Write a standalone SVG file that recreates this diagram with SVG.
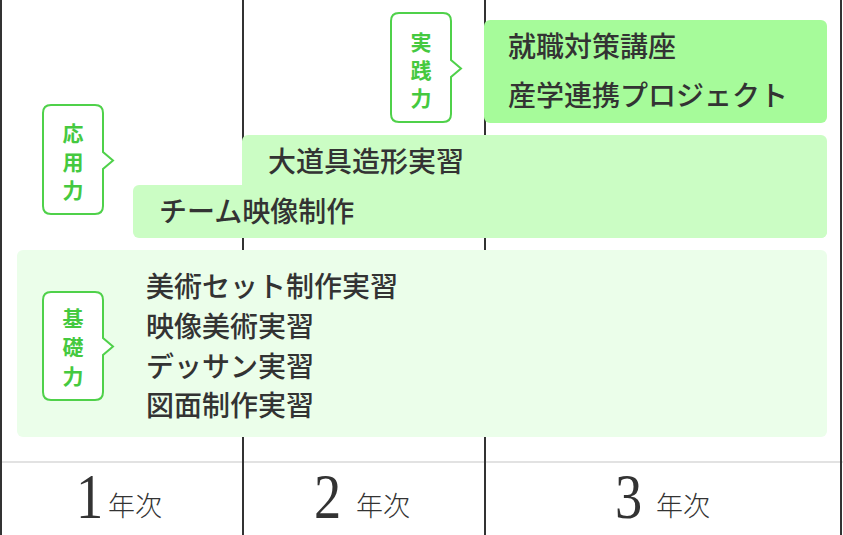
<svg xmlns="http://www.w3.org/2000/svg" width="843" height="535" viewBox="0 0 843 535">
<style>
.grid{stroke:#333;stroke-width:2;fill:none}
.hline{stroke:#e2e2e2;stroke-width:2;fill:none}
.item{font-family:"Noto Sans CJK JP","Noto Sans",sans-serif;font-size:28px;font-weight:500;fill:#333}
.bub{fill:#fff;stroke:#4fd14a;stroke-width:2}
.bubt{font-family:"Noto Sans CJK JP","Noto Sans",sans-serif;font-size:21px;font-weight:700;fill:#45c93f;text-anchor:middle}
.num{font-family:"Liberation Serif",serif;font-size:64px;fill:#333}
.nen{font-family:"Noto Sans CJK JP","Noto Sans",sans-serif;font-size:27px;font-weight:300;fill:#333}
</style>
<rect width="843" height="535" fill="#fff"/>
<g id="grid">
<line class="hline" x1="0" y1="462" x2="843" y2="462"/>
<line class="grid" x1="1" y1="0" x2="1" y2="535"/>
<line class="grid" x1="243" y1="0" x2="243" y2="535"/>
<line class="grid" x1="485" y1="0" x2="485" y2="535"/>
<line class="grid" x1="841" y1="0" x2="841" y2="535"/>
</g>
<g id="kiso">
<rect x="17" y="250" width="810" height="187" rx="6" fill="#ebfeea"/>
<text class="item" x="146" y="297">美術セット制作実習</text>
<text class="item" x="146" y="337">映像美術実習</text>
<text class="item" x="146" y="377">デッサン実習</text>
<text class="item" x="146" y="416">図面制作実習</text>
</g>
<g id="ouyou">
<rect x="242" y="135" width="585" height="103" rx="6" fill="#cbfdc4"/>
<rect x="133" y="185" width="694" height="53" rx="6" fill="#cbfdc4"/>
<text class="item" x="268" y="172">大道具造形実習</text>
<text class="item" x="159" y="222">チーム映像制作</text>
</g>
<g id="jissen">
<rect x="484" y="20" width="343" height="103" rx="6" fill="#a6fb9a"/>
<text class="item" x="508" y="57">就職対策講座</text>
<text class="item" x="508" y="106">産学連携プロジェクト</text>
</g>
<g id="label-jissen">
<path class="bub" d="M399,13 H443 Q451,13 451,21 V60 L461,68.5 L451,77 V114 Q451,122 443,122 H399 Q391,122 391,114 V21 Q391,13 399,13 Z"/>
<text class="bubt"><tspan x="421" y="50">実</tspan><tspan x="421" y="78">践</tspan><tspan x="421" y="106">力</tspan></text>
</g>
<g id="label-ouyou">
<path class="bub" d="M51,105 H95 Q103,105 103,113 V152 L113,160.5 L103,169 V206 Q103,214 95,214 H51 Q43,214 43,206 V113 Q43,105 51,105 Z"/>
<text class="bubt"><tspan x="73" y="141">応</tspan><tspan x="73" y="169.5">用</tspan><tspan x="73" y="198">力</tspan></text>
</g>
<g id="label-kiso">
<path class="bub" d="M51,292 H95 Q103,292 103,300 V338 L113,346.5 L103,355 V392 Q103,400 95,400 H51 Q43,400 43,392 V300 Q43,292 51,292 Z"/>
<text class="bubt"><tspan x="73" y="326">基</tspan><tspan x="73" y="355">礎</tspan><tspan x="73" y="384">力</tspan></text>
</g>
<g id="years">
<text class="num" transform="translate(76,518) scale(0.85,1)">1</text>
<text class="nen" x="108" y="516">年次</text>
<text class="num" transform="translate(314,518) scale(0.85,1)">2</text>
<text class="nen" x="356" y="516">年次</text>
<text class="num" transform="translate(615,518) scale(0.85,1)">3</text>
<text class="nen" x="656" y="516">年次</text>
</g>
</svg>
